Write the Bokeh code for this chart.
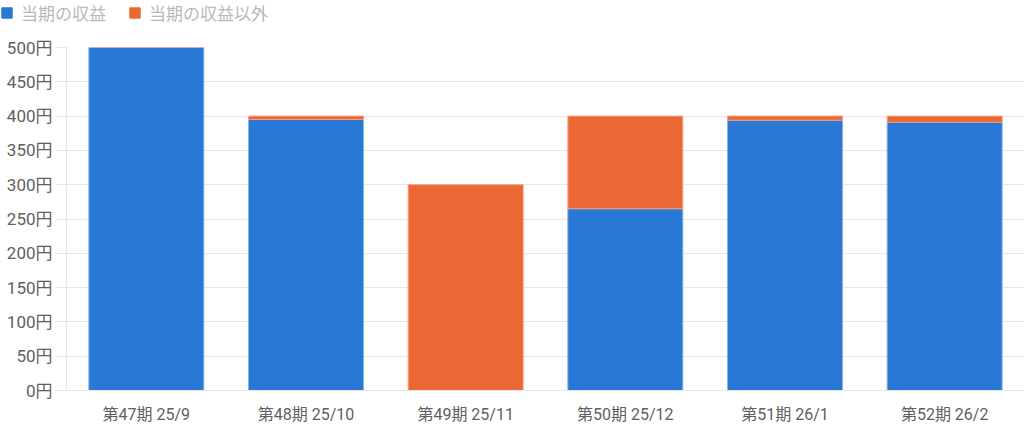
from bokeh.plotting import figure
from bokeh.layouts import column, row
from bokeh.models import ColumnDataSource, Legend, LegendItem, FixedTicker, CustomJSTickFormatter
from bokeh.embed import file_html
from bokeh.resources import INLINE

periods = ["第47期 25/9", "第48期 25/10", "第49期 25/11", "第50期 25/12", "第51期 26/1", "第52期 26/2"]
income = [500, 395, 0, 265, 394, 391]
other = [0, 5, 300, 135, 6, 9]
series = ["当期の収益", "当期の収益以外"]
colors = ["#2a78d6", "#eb6834"]
edge_colors = ["#7fb0ea", "#f4a07e"]
y_ticks = [0, 50, 100, 150, 200, 250, 300, 350, 400, 450, 500]

FONT = "Roboto, 'Noto Sans CJK JP', sans-serif"

src = ColumnDataSource(dict(period=periods, income=income, other=other))

p = figure(x_range=periods, y_range=(0, 500), width=1024, height=394,
           output_backend="svg", toolbar_location=None,
           min_border_left=66, min_border_right=0, min_border_top=10, min_border_bottom=41)

rs = p.vbar_stack(["income", "other"], x="period", width=0.72, source=src,
                  color=colors, line_color=edge_colors, line_width=1)

p.outline_line_color = None
p.xgrid.grid_line_color = None
p.ygrid.grid_line_color = "#e6e6e6"
p.ygrid.ticker = FixedTicker(ticks=y_ticks)

p.yaxis.ticker = FixedTicker(ticks=y_ticks)
p.yaxis.formatter = CustomJSTickFormatter(code="return tick + '円';")
p.yaxis.axis_line_color = "#e6e6e6"
p.yaxis.major_tick_line_color = "#e6e6e6"
p.yaxis.major_tick_out = 11
p.yaxis.major_tick_in = 0
p.yaxis.minor_tick_line_color = None
p.yaxis.major_label_text_color = "#606060"
p.yaxis.major_label_text_font = FONT
p.yaxis.major_label_text_font_size = "17px"
p.yaxis.major_label_standoff = 3

p.xaxis.axis_line_color = "#e6e6e6"
p.xaxis.major_tick_line_color = None
p.xaxis.minor_tick_line_color = None
p.xaxis.major_label_text_color = "#606060"
p.xaxis.major_label_text_font = FONT
p.xaxis.major_label_text_font_size = "16px"
p.xaxis.major_label_standoff = 8

# legend strip above the chart
lg = figure(width=1024, height=37, x_range=(0, 1), y_range=(0, 1),
            x_axis_location=None, y_axis_location=None,
            output_backend="svg", toolbar_location=None,
            min_border_left=0, min_border_right=0, min_border_top=0, min_border_bottom=0)
lg.grid.visible = False
lg.outline_line_color = None
hidden = ColumnDataSource(dict(x=[-5], top=[0]))
lr = [lg.vbar(x="x", top="top", width=0.1, source=hidden, color=c) for c in colors]

legend = Legend(items=[LegendItem(label=series[i], renderers=[lr[i]]) for i in range(2)],
                orientation="horizontal", location=(0, 12),
                label_text_font=FONT, label_text_font_size="17px",
                label_text_color="#b8b8b8", glyph_width=13, glyph_height=13,
                spacing=22, label_standoff=8, padding=0, margin=0,
                border_line_color=None, background_fill_alpha=0)
lg.add_layout(legend)

layout = column(row(lg), p, spacing=0)
open("out.html", "w").write(file_html(layout, INLINE))
